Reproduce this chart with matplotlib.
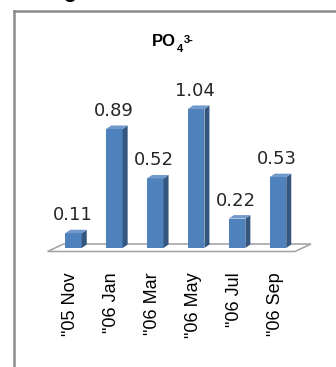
import matplotlib
matplotlib.use("Agg")
import matplotlib.pyplot as plt
from matplotlib.patches import Polygon
from matplotlib.lines import Line2D

# PO4 3- concentration per sampling campaign
months = ['"05 Nov', '"06 Jan', '"06 Mar', '"06 May', '"06 Jul', '"06 Sep']
po4 = [0.11, 0.89, 0.52, 1.04, 0.22, 0.53]

W, H, DPI = 336, 367, 100
fig = plt.figure(figsize=(W / DPI, H / DPI), dpi=DPI)
fig.patch.set_facecolor("white")

# one axes over the whole canvas; x = category slot, y = value
px_per_slot = 40.9
px_per_unit = 133.7
x0_px = 73.5      # pixel x of first bar centre
y0_px = 248.0     # pixel y (from top) of the value-zero plane
ax = fig.add_axes([0, 0, 1, 1])
ax.set_xlim(-x0_px / px_per_slot, (W - x0_px) / px_per_slot)
ax.set_ylim(-(H - y0_px) / px_per_unit, y0_px / px_per_unit)
ax.axis("off")

def sx(px):
    return px / px_per_slot

def sy(px):
    return px / px_per_unit

front = "#4F81BD"
side = "#34567F"
top = "#7199CC"

bar_w = sx(16.5)
dx = sx(5.0)
dy = sy(3.5)

# floor of the 3-D plot area
fl_l = -0.5 - sx(5.5)
fl_r = len(po4) - 0.5 - sx(3.5)
fl_dx = sx(16)
fl_dy = sy(7.5)
fl_y = sy(-3.5)
floor = Polygon([(fl_l, fl_y), (fl_r, fl_y), (fl_r + fl_dx, fl_y + fl_dy),
                 (fl_l + fl_dx, fl_y + fl_dy)], closed=True,
                facecolor="white", edgecolor="#A6A6A6", linewidth=1.2, zorder=1)
ax.add_patch(floor)

xs = list(range(len(po4)))
ax.bar(xs, po4, width=bar_w, color=front, edgecolor="none", zorder=3)
for x, v in zip(xs, po4):
    r = x + bar_w / 2
    l = x - bar_w / 2
    ax.add_patch(Polygon([(r, 0), (r + dx, dy), (r + dx, v + dy), (r, v)],
                         closed=True, facecolor=side, edgecolor="none", zorder=3))
    ax.add_patch(Polygon([(l, v), (r, v), (r + dx, v + dy), (l + dx, v + dy)],
                         closed=True, facecolor=top, edgecolor="none", zorder=3))
    ax.text(x - sx(1), v + sy(13), f"{v:.2f}", ha="center", va="baseline",
            fontsize=13, color="#262626", family="DejaVu Sans", zorder=4)
    # category label under the floor, rotated
    ax.text(x - sx(3), sy(-24), months[x], rotation=90,
            ha="center", va="top", fontsize=13, color="black",
            family="Liberation Sans", zorder=4)

# chart title: PO4 with subscript 4 and superscript 3-
t_main = fig.text(152 / W, 1 - 45.5 / H, "PO", ha="left", va="baseline",
                  fontsize=12, fontweight="bold", color="black",
                  family="Liberation Sans")
t_sub = ax.annotate("4", xy=(1, 0), xycoords=t_main, xytext=(0.3, -2.5),
                    textcoords="offset points", ha="left", va="baseline",
                    fontsize=8, fontweight="bold", color="black",
                    family="Liberation Sans")
ax.annotate("3-", xy=(1, 0), xycoords=t_sub, xytext=(0.5, 7.6),
            textcoords="offset points", ha="left", va="baseline",
            fontsize=8, fontweight="bold", color="black",
            family="Liberation Sans")

# chart area border (left and top edges)
fig.add_artist(Line2D([14 / W, 14 / W], [0, 1 - 11 / H], transform=fig.transFigure,
                      color="#8C8C8C", linewidth=1.8))
fig.add_artist(Line2D([14 / W, 1], [1 - 11 / H, 1 - 11 / H], transform=fig.transFigure,
                      color="#8C8C8C", linewidth=1.8))

# caption line above the chart, mostly outside the canvas
fig.text(70 / W, 1 + 2 / H, "g", ha="center", va="baseline", fontsize=15,
         fontweight="bold", color="black", family="Liberation Sans")

fig.savefig("out.png", dpi=DPI, facecolor="white")
